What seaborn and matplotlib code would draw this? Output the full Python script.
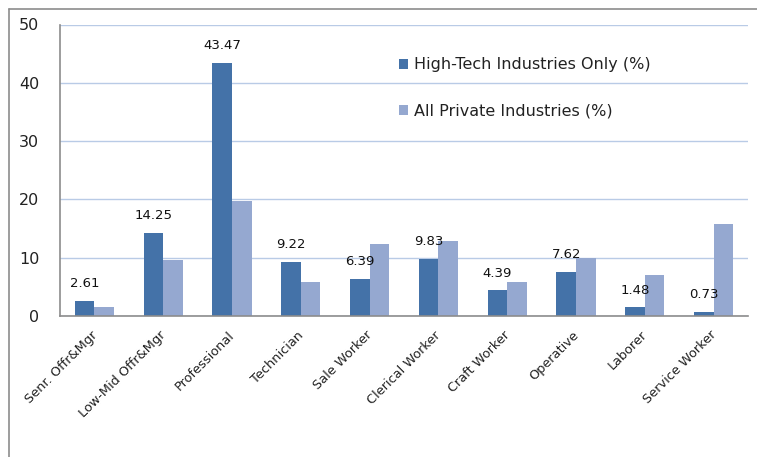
import matplotlib
matplotlib.use("Agg")
import matplotlib.pyplot as plt
import matplotlib.transforms as mtrans
import seaborn as sns
import pandas as pd
from matplotlib.lines import Line2D

categories = ["Senr. Offr&Mgr", "Low-Mid Offr&Mgr", "Professional", "Technician",
              "Sale Worker", "Clerical Worker", "Craft Worker", "Operative",
              "Laborer", "Service Worker"]
high_tech = [2.61, 14.25, 43.47, 9.22, 6.39, 9.83, 4.39, 7.62, 1.48, 0.73]
all_private = [1.6, 9.55, 19.8, 5.8, 12.4, 12.9, 5.8, 10.0, 7.0, 15.7]
series_names = ["High-Tech Industries Only (%)", "All Private Industries (%)"]
y_ticks = [0, 10, 20, 30, 40, 50]

df = pd.DataFrame({
    "category": categories * 2,
    "value": high_tech + all_private,
    "series": [series_names[0]] * len(categories) + [series_names[1]] * len(categories),
})

sns.set_style("white")
plt.rcParams["font.family"] = ["DejaVu Sans"]

fig = plt.figure(figsize=(7.57, 4.57), dpi=100)
ax = fig.add_axes([60 / 757, 1 - 316 / 457, (748 - 60) / 757, (316 - 24.5) / 457])

palette = ["#4472A8", "#95A8D0"]
sns.barplot(data=df, x="category", y="value", hue="series", palette=palette,
            width=0.567, saturation=1, ax=ax, legend=True, linewidth=0)

ax.set_ylim(0, 50)
ax.set_xlim(-0.5, len(categories) - 0.5)
ax.set_yticks(y_ticks)
ax.set_yticklabels([str(t) for t in y_ticks], fontsize=11.5, color="#222222")
ax.yaxis.grid(True, color="#B9CBE6", linewidth=1)
ax.set_axisbelow(True)
ax.tick_params(axis="y", length=0, pad=15)

# x ticks at category boundaries
ax.set_xticks([i - 0.5 for i in range(len(categories) + 1)], minor=True)
ax.tick_params(axis="x", which="minor", length=5, color="#8C8C8C", width=1, direction="out")
ax.set_xticks(range(len(categories)))
ax.set_xticklabels(categories, rotation=45, ha="right", rotation_mode="anchor",
                   fontsize=9.3, color="#222222")
ax.tick_params(axis="x", which="major", length=0, pad=9)
shift = mtrans.ScaledTranslation(-4 / 100, 0, fig.dpi_scale_trans)
for lbl in ax.get_xticklabels():
    lbl.set_transform(lbl.get_transform() + shift)

for s in ["top", "right"]:
    ax.spines[s].set_visible(False)
for s in ["left", "bottom"]:
    ax.spines[s].set_color("#8C8C8C")
    ax.spines[s].set_linewidth(1.2)

ax.set_xlabel("")
ax.set_ylabel("")

# data labels above high-tech bars
cont = ax.containers[0]
for bar, v in zip(cont, high_tech):
    ax.annotate(f"{v:.2f}", (bar.get_x() + bar.get_width() / 2, bar.get_height()),
                xytext=(0, 12.5), textcoords="offset points", ha="center", va="center",
                fontsize=9.5, color="#111111")

leg = ax.legend(loc="upper left", bbox_to_anchor=((393 - 60) / 688, 1 - (51 - 24.5) / 291.5),
                frameon=False, fontsize=11.5, handlelength=0.55, handleheight=0.55,
                handletextpad=0.35, labelspacing=1.95, borderaxespad=0)
for t in leg.get_texts():
    t.set_color("#222222")

# outer chart border (top and left visible)
fig.add_artist(Line2D([9 / 757, 1], [1 - 9 / 457, 1 - 9 / 457], color="#8C8C8C", lw=1.2, transform=fig.transFigure))
fig.add_artist(Line2D([9 / 757, 9 / 757], [0, 1 - 9 / 457], color="#8C8C8C", lw=1.2, transform=fig.transFigure))

fig.savefig("out.png", dpi=100)
